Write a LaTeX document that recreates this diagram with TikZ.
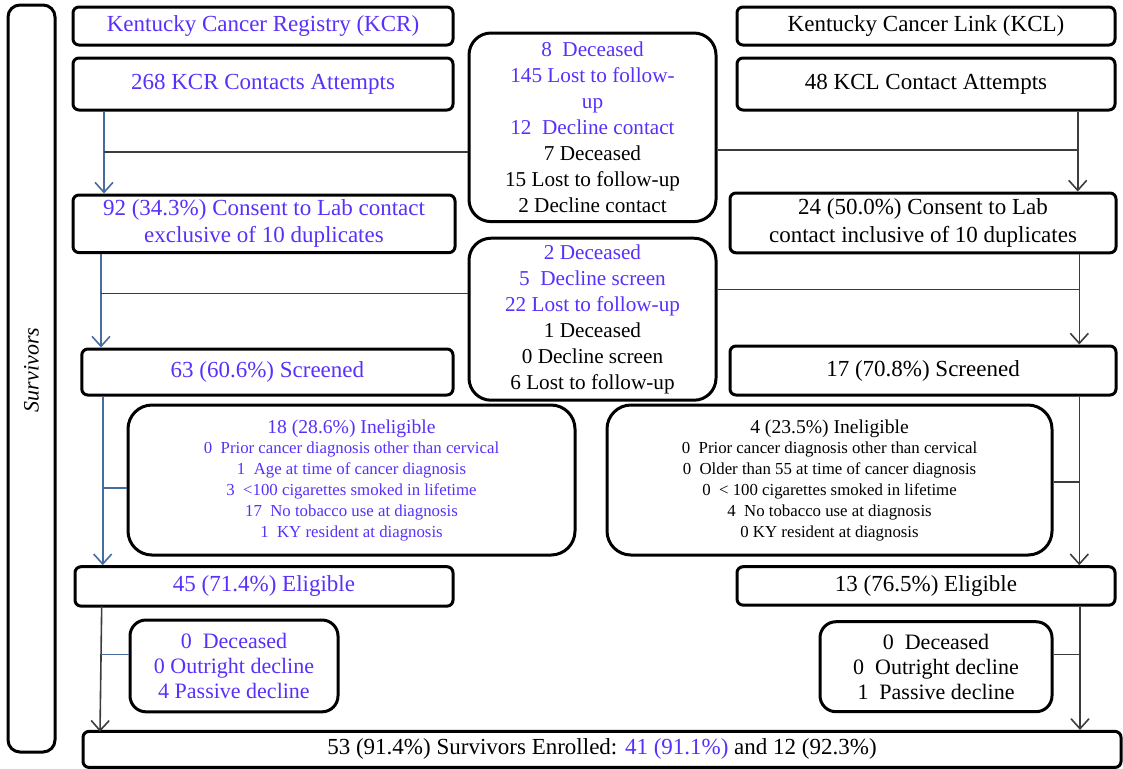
\documentclass[tikz,border=0pt]{standalone}
\usepackage{fontspec}
\setmainfont{Liberation Serif}
\usetikzlibrary{arrows.meta}
\definecolor{kcrblue}{RGB}{88,48,250}
\definecolor{flowblue}{RGB}{72,108,158}
\definecolor{flowgray}{RGB}{60,60,60}
\tikzset{
  box/.style={
    draw=black,
    line width=1.5pt,
    rounded corners=3pt,
    inner sep=0pt,
    align=center,
    font=\fontsize{11.5}{13.6}\selectfont
  },
  box-kcr/.style={box, text=kcrblue},
  box-loss/.style={box, rounded corners=11pt, font=\fontsize{10.6}{13}\selectfont},
  box-inel/.style={box, rounded corners=12pt, font=\fontsize{8.4}{10.4}\selectfont},
  box-drop/.style={box, rounded corners=8pt, font=\fontsize{11}{12.6}\selectfont},
  link/.style={line width=0.8pt, draw=flowgray},
  link-blue/.style={link, draw=flowblue},
  flow/.style={link, -{Straight Barb[length=5pt,width=9pt]}},
  flow-blue/.style={flow, draw=flowblue}
}
\newcommand{\kb}[1]{\textcolor{kcrblue}{#1}}

\begin{document}
\begin{tikzpicture}[x=0.5pt, y=-0.5pt]
  \useasboundingbox (0,0) rectangle (1123,768);
  % Side label
  \node[box, rounded corners=6pt, minimum width=23.5pt, minimum height=373.5pt] (surv) at (31.5,378.5) {};
  \node[rotate=90, font=\itshape\fontsize{11}{12}\selectfont] (surv-text) at (31.5,370) {Survivors};
  % Left column (KCR)
  \node[box-kcr, minimum width=190pt, minimum height=19pt] (kcr) at (263,26) {Kentucky Cancer Registry (KCR)};
  \node[box-kcr, minimum width=190pt, minimum height=26pt] (kcr-att) at (263,84) {268 KCR Contacts Attempts};
  \node[box-kcr, minimum width=191pt, minimum height=28.8pt] (kcr-cons) at (264,223.8) {92 (34.3\%) Consent to Lab contact\\exclusive of 10 duplicates};
  \node[box-kcr, minimum width=185.6pt, minimum height=23pt] (kcr-scr) at (267.4,372) {63 (60.6\%) Screened};
  \node[box-inel, text=kcrblue, minimum width=223.5pt, minimum height=75pt] (kcr-inel) at (351.5,480) {%
    {\fontsize{9.8}{11}\selectfont 18 (28.6\%) Ineligible}\\
    0\ \ Prior cancer diagnosis other than cervical\\
    1\ \ Age at time of cancer diagnosis\\
    3\ \ <100 cigarettes smoked in lifetime\\
    17\ \ No tobacco use at diagnosis\\
    1\ \ KY resident at diagnosis};
  \node[box-kcr, minimum width=189pt, minimum height=19.7pt] (kcr-eli) at (264,586.4) {45 (71.4\%) Eligible};
  \node[box-drop, text=kcrblue, minimum width=104pt, minimum height=45.9pt] (kcr-drop) at (234,665.9) {0\ \ Deceased\\0 Outright decline\\4 Passive decline};
  % Right column (KCL)
  \node[box, minimum width=189pt, minimum height=19pt] (kcl) at (926,26) {Kentucky Cancer Link (KCL)};
  \node[box, minimum width=189pt, minimum height=26pt] (kcl-att) at (926,84) {48 KCL Contact Attempts};
  \node[box, minimum width=193pt, minimum height=29.9pt] (kcl-cons) at (923,222.9) {24 (50.0\%) Consent to Lab\\contact inclusive of 10 duplicates};
  \node[box, minimum width=193pt, minimum height=24.5pt] (kcl-scr) at (923,370.5) {17 (70.8\%) Screened};
  \node[box-inel, minimum width=222.5pt, minimum height=75pt] (kcl-inel) at (829.5,480) {%
    {\fontsize{9.8}{11}\selectfont 4 (23.5\%) Ineligible}\\
    0\ \ Prior cancer diagnosis other than cervical\\
    0\ \ Older than 55 at time of cancer diagnosis\\
    0\ \ < 100 cigarettes smoked in lifetime\\
    4\ \ No tobacco use at diagnosis\\
    0 KY resident at diagnosis};
  \node[box, minimum width=189pt, minimum height=19.2pt] (kcl-eli) at (926,585.9) {13 (76.5\%) Eligible};
  \node[box-drop, minimum width=116pt, minimum height=45pt] (kcl-drop) at (936,666.7) {0\ \ Deceased\\0\ \ Outright decline\\1\ \ Passive decline};
  % Losses between stages
  \node[box-loss, minimum width=123.5pt, minimum height=94.3pt] (loss-contact) at (592.5,127.3) {%
    \kb{8\ \ Deceased}\\
    \kb{145 Lost to follow-}\\
    \kb{up}\\
    \kb{12\ \ Decline contact}\\
    7 Deceased\\
    15 Lost to follow-up\\
    2 Decline contact};
  \node[box-loss, minimum width=123.5pt, minimum height=81pt] (loss-screen) at (592.5,319.2) {%
    \kb{2 Deceased}\\
    \kb{5\ \ Decline screen}\\
    \kb{22 Lost to follow-up}\\
    1 Deceased\\
    0 Decline screen\\
    6 Lost to follow-up};
  % Enrolled
  \node[box, minimum width=519pt, minimum height=18pt] (enrolled) at (602,749.4) {53 (91.4\%) Survivors Enrolled: \kb{41 (91.1\%)} and 12 (92.3\%)};

  % KCR flow
  \coordinate (kcr-x1) at (104,0);
  \coordinate (kcr-x2) at (101,0);
  \coordinate (kcr-x3) at (102.7,0);
  \coordinate (kcr-j1) at (104,152);
  \coordinate (kcr-j2) at (101,293.5);
  \coordinate (kcr-j3) at (102.7,487.7);
  \coordinate (kcr-j4) at (101,654.3);
  \coordinate (kcr-top4) at (101.7,606);
  \coordinate (kcr-end4) at (100,731.7);
  \draw[flow-blue] (kcr-att.south -| kcr-x1) -- (kcr-cons.north -| kcr-x1);
  \draw[link] (kcr-j1) -- (kcr-j1 -| loss-contact.west);
  \draw[flow-blue] (kcr-cons.south -| kcr-x2) -- (kcr-scr.north -| kcr-x2);
  \draw[link] (kcr-j2) -- (kcr-j2 -| loss-screen.west);
  \draw[flow-blue] (kcr-scr.south -| kcr-x3) -- (kcr-eli.north -| kcr-x3);
  \draw[link-blue] (kcr-j3) -- (kcr-j3 -| kcr-inel.west);
  \draw[flow] (kcr-top4) -- (kcr-end4);
  \draw[link-blue] (kcr-j4) -- (kcr-j4 -| kcr-drop.west);
  % KCL flow
  \coordinate (kcl-x1) at (1077.7,0);
  \coordinate (kcl-x2) at (1079.3,0);
  \coordinate (kcl-x4) at (1080,0);
  \coordinate (kcl-j1) at (1077.7,150);
  \coordinate (kcl-j2) at (1079.3,289.5);
  \coordinate (kcl-j3) at (1079.3,481.7);
  \coordinate (kcl-j4) at (1080,654.3);
  \draw[flow] (kcl-att.south -| kcl-x1) -- (kcl-cons.north -| kcl-x1);
  \draw[link] (kcl-j1 -| loss-contact.east) -- (kcl-j1);
  \draw[flow] (kcl-cons.south -| kcl-x2) -- (kcl-scr.north -| kcl-x2);
  \draw[link] (kcl-j2 -| loss-screen.east) -- (kcl-j2);
  \draw[flow] (kcl-scr.south -| kcl-x2) -- (kcl-eli.north -| kcl-x2);
  \draw[link] (kcl-j3 -| kcl-inel.east) -- (kcl-j3);
  \draw[flow] (kcl-eli.south -| kcl-x4) -- (enrolled.north -| kcl-x4);
  \draw[link] (kcl-j4 -| kcl-drop.east) -- (kcl-j4);
\end{tikzpicture}
\end{document}
